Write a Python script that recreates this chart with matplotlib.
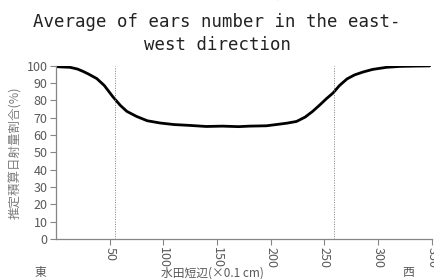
import matplotlib
matplotlib.use("Agg")
import matplotlib.pyplot as plt

# distance along the short side of the paddy (x0.1 cm) and estimated
# cumulative solar radiation ratio (%)
dist = [0, 5, 13, 20, 25, 30, 38, 45, 53, 60, 66, 75, 85, 97, 110, 125,
        140, 155, 170, 180, 196, 205, 215, 224, 232, 239, 246, 252, 258,
        264, 271, 278, 286, 295, 308, 320, 335, 348]
ratio = [99.4, 99.2, 99.0, 98.0, 96.7, 95.2, 92.5, 88.5, 82.0, 77.0, 73.6,
         70.7, 68.2, 66.9, 66.0, 65.5, 64.9, 65.1, 64.8, 65.1, 65.3, 66.0,
         66.8, 67.8, 70.3, 73.6, 77.5, 81.0, 84.2, 88.5, 92.3, 94.6, 96.3,
         97.8, 99.0, 99.5, 99.7, 99.8]
vlines = [55, 259]
xticks = [50, 100, 150, 200, 250, 300, 350]
yticks = list(range(0, 101, 10))

plt.rcParams['font.family'] = ['Noto Sans CJK JP', 'DejaVu Sans']
GRAY = "#595959"

fig = plt.figure(figsize=(4.34, 2.79), dpi=100, facecolor="white")
ax = fig.add_axes([0.129, 0.143, 0.866, 0.622])

ax.plot(dist, ratio, color="black", lw=2.0, solid_capstyle="round")
for v in vlines:
    ax.axvline(v, color="#808080", lw=0.7, ls=(0, (1, 1.5)))

ax.set_xlim(0, 350)
ax.set_ylim(0, 100)
ax.set_xticks(xticks)
ax.set_yticks(yticks)
ax.set_xticklabels([str(t) for t in xticks], rotation=-90, fontsize=9,
                   color=GRAY)
ax.set_yticklabels([str(t) for t in yticks], fontsize=9, color=GRAY)
ax.tick_params(axis="both", direction="out", length=4, width=0.8,
               colors="#868686", labelcolor=GRAY, pad=2)
for s in ["top", "right"]:
    ax.spines[s].set_visible(False)
for s in ["left", "bottom"]:
    ax.spines[s].set_color("#868686")
    ax.spines[s].set_linewidth(0.9)

ax.set_ylabel("推定積算日射量割合(%)", fontsize=9, color="#7f7f7f", labelpad=3)

fig.text(0.49, 0.022, "水田短辺(×0.1 cm)", fontsize=8.5, color=GRAY,
         ha="center", va="center")
fig.text(0.092, 0.022, "東", fontsize=8.5, color=GRAY, ha="center", va="center")
fig.text(0.94, 0.022, "西", fontsize=8.5, color=GRAY, ha="center", va="center")

# Japanese title line, cropped at the top edge in the original
fig.text(0.51, 1.019, "図　東西方向の平均穂数", fontsize=11, color="#222222",
         ha="center", va="center")
fig.text(0.5, 0.88, "Average of ears number in the east-\nwest direction",
         family="DejaVu Sans Mono", fontsize=12.5, color="#222222",
         ha="center", va="center", linespacing=1.3)

fig.savefig("out.png", dpi=100, facecolor="white")
